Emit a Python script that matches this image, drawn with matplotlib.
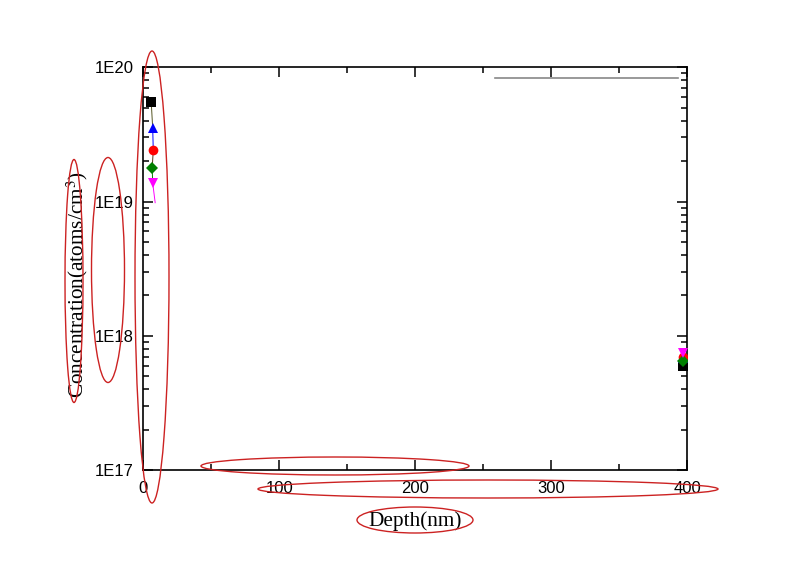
import numpy as np
import matplotlib
matplotlib.use('Agg')
import matplotlib.pyplot as plt
from matplotlib.patches import Ellipse
from matplotlib.ticker import LogLocator, MultipleLocator, FuncFormatter

plt.rcParams['mathtext.fontset'] = 'stix'

# series: (colour, marker) per sample
colors = ['black', 'blue', 'red', 'green', 'magenta']
markers = ['s', '^', 'o', 'D', 'v']
near_depth = [5.9, 7.0, 7.4, 6.6, 7.0]
near_conc = [5.5e19, 3.5e19, 2.4e19, 1.77e19, 1.37e19]
far_depth = [397, 397, 397, 397, 397]
far_conc = [6.0e17, 6.8e17, 7.0e17, 6.5e17, 7.4e17]
tail_depth = 8.8
tail_conc = 9.8e18
line_colors = ['#555522', 'blue', '#553311', 'green', 'magenta']

fig = plt.figure(figsize=(8, 5.65), dpi=100)
ax = fig.add_axes([0.179, 0.168, 0.680, 0.713])

# thin profile line through the near-surface points
xs = near_depth + [tail_depth]
ys = near_conc + [tail_conc]
for i in range(len(near_depth)):
    ax.plot(xs[i:i+2], ys[i:i+2], color=line_colors[i], lw=0.7, zorder=2)

for c, m, d0, c0, d1, c1 in zip(colors, markers, near_depth, near_conc, far_depth, far_conc):
    ax.plot([d0, d1], [c0, c1], ls='none', marker=m, color=c, ms=7 if m != 'D' else 6,
            markeredgewidth=0, zorder=3)

ax.set_yscale('log')
ax.set_xlim(0, 400)
ax.set_ylim(1e17, 1e20)

ax.xaxis.set_major_locator(MultipleLocator(100))
ax.xaxis.set_minor_locator(MultipleLocator(50))
ax.yaxis.set_major_locator(LogLocator(base=10))
ax.yaxis.set_minor_locator(LogLocator(base=10, subs=np.arange(2, 10)))
ax.yaxis.set_major_formatter(FuncFormatter(lambda v, p: '1E%d' % round(np.log10(v))))
ax.yaxis.set_minor_formatter(FuncFormatter(lambda v, p: ''))

ax.tick_params(which='both', direction='in', top=True, right=True, width=1.1)
ax.tick_params(which='major', length=7)
ax.tick_params(which='minor', length=4.5)
ax.tick_params(axis='y', which='major', pad=7)
ax.tick_params(axis='x', which='major', pad=8)
for lab in ax.get_xticklabels() + ax.get_yticklabels():
    lab.set_fontfamily('Liberation Sans')
    lab.set_fontsize(12)
for s in ax.spines.values():
    s.set_linewidth(1.2)

ax.set_xlabel('Depth(nm)', family='Liberation Serif', fontsize=15.3, labelpad=11)
ax.set_ylabel(r'Concentration(atoms/cm$^{3}$)', family='Liberation Serif', fontsize=15.3)
ax.yaxis.set_label_coords(-0.097, 0.46)

# grey line left from the legend frame
ax.plot([0.647, 0.983], [0.973, 0.973], transform=ax.transAxes, color='#888888', lw=1.2,
        clip_on=False)

# red hand-drawn ellipses (figure pixels: cx, cy, w, h)
ells = [(152, 277, 34, 452), (74, 281, 18, 243), (108, 270, 33, 225),
        (335, 466, 268, 18), (488, 489, 460, 18), (415, 520, 116, 26)]
W, H = 800, 565
for cx, cy, w, h in ells:
    e = Ellipse((cx / W, 1 - cy / H), w / W, h / H, transform=fig.transFigure,
                fill=False, edgecolor='#cc2222', lw=1.0)
    fig.patches.append(e)

fig.savefig('out.png', dpi=100)
